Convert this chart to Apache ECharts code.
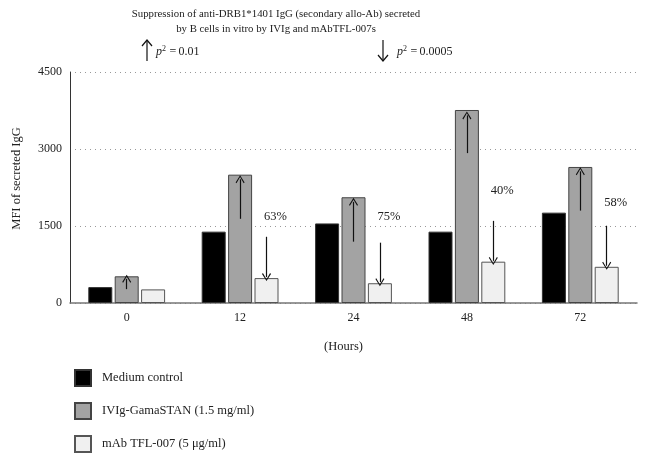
<!DOCTYPE html>
<html><head><meta charset="utf-8">
<script src="https://cdn.jsdelivr.net/npm/echarts@6/dist/echarts.min.js"></script>
<style>html,body{margin:0;padding:0;background:#fff}#c{width:645px;height:459px}</style>
</head><body><div id="c"></div>
<script>
// ---- data ----
const categories = ['0', '12', '24', '48', '72'];
const seriesNames = ['Medium control', 'IVIg-GamaSTAN (1.5 mg/ml)', 'mAb TFL-007 (5 \u03bcg/ml)'];
const mediumControl = [310, 1390, 1550, 1390, 1760];
const ivigGamaStan = [520, 2500, 2060, 3760, 2650];
const mabTfl007 = [265, 485, 385, 805, 705];
const yTicks = [0, 1500, 3000, 4500];
// annotation arrows (value from -> value to), per category
const upArrows = [[270, 470], [1640, 2410], [1195, 1970], [2920, 3655], [1800, 2565]];
const downArrows = [null, [1290, 505], [1175, 405], [1600, 820], [1505, 725]];
const reductionLabels = [null, '63%', '75%', '40%', '58%'];
const reductionLabelValues = [null, 1675, 1675, 2190, 1955];
const titleLines = ['Suppression of anti-DRB1*1401 IgG (secondary allo-Ab) secreted', 'by B cells in vitro by IVIg and mAbTFL-007s'];
const pValues = ['0.01', '0.0005'];

const SERIF = '"Liberation Serif", "DejaVu Serif", serif';
const chevron = 'path://M5,0 L10,9 L9,10 L5,2.2 L1,10 L0,9 Z';

function arrowLines(list) {
  const out = [];
  list.forEach((a, i) => { if (a) out.push([{ coord: [i, a[0]] }, { coord: [i, a[1]] }]); });
  return out;
}
const arrowMarkLine = (list) => ({
  silent: true,
  animation: false,
  symbol: ['none', chevron],
  symbolSize: [9, 8],
  lineStyle: { color: '#111', width: 1.2, type: 'solid' },
  label: { show: false },
  emphasis: { disabled: true },
  data: arrowLines(list)
});

const chart = echarts.init(document.getElementById('c'), null, { renderer: 'canvas' });
const barBase = { type: 'bar', barWidth: 24, barGap: '10%', animation: false };
const pRich = {
  i: { fontFamily: SERIF, fontStyle: 'italic', fontSize: 12 },
  s: { fontFamily: SERIF, fontSize: 8, verticalAlign: 'top', padding: [0, 1, 6, 0] },
  n: { fontFamily: SERIF, fontSize: 12 }
};

chart.setOption({
  backgroundColor: '#fff',
  animation: false,
  textStyle: { fontFamily: SERIF },
  grid: { left: 70, right: 8, top: 72, bottom: 156, containLabel: false, outerBoundsMode: 'none' },
  legend: {
    orient: 'vertical', left: 74, top: 369, padding: 0,
    itemWidth: 16, itemHeight: 16, itemGap: 15,
    icon: 'rect',
    textStyle: { fontFamily: SERIF, fontSize: 12.5, color: '#222', padding: [0, 0, 0, 6] },
    data: seriesNames
  },
  xAxis: {
    type: 'category', data: categories,
    name: '(Hours)', nameLocation: 'middle', nameGap: 37,
    nameTextStyle: { fontFamily: SERIF, fontSize: 12.5, color: '#222', padding: [0, 20, 0, 0] },
    axisLine: { lineStyle: { color: '#777', width: 1.5 } },
    axisTick: { show: false },
    axisLabel: { fontFamily: SERIF, fontSize: 12, color: '#222', margin: 9 }
  },
  yAxis: {
    type: 'value', min: yTicks[0], max: yTicks[yTicks.length - 1], interval: yTicks[1] - yTicks[0],
    name: 'MFI of secreted IgG', nameLocation: 'middle', nameGap: 47, nameRotate: 90,
    nameTextStyle: { fontFamily: SERIF, fontSize: 12.5, color: '#222', padding: [0, 0, 0, 18] },
    axisLine: { show: true, lineStyle: { color: '#333', width: 1 } },
    axisTick: { show: false },
    axisLabel: { fontFamily: SERIF, fontSize: 12, color: '#222', margin: 8, formatter: v => String(v) },
    splitLine: { show: true, lineStyle: { color: '#999', type: [1, 4], width: 1 } }
  },
  series: [
    Object.assign({}, barBase, {
      name: seriesNames[0], data: mediumControl,
      itemStyle: { color: '#000', borderColor: '#333', borderWidth: 1 }
    }),
    Object.assign({}, barBase, {
      name: seriesNames[1], data: ivigGamaStan,
      itemStyle: { color: '#a3a3a3', borderColor: '#444', borderWidth: 1 },
      markLine: arrowMarkLine(upArrows)
    }),
    Object.assign({}, barBase, {
      name: seriesNames[2], data: mabTfl007,
      itemStyle: { color: '#f0f0f0', borderColor: '#555', borderWidth: 1 },
      markLine: arrowMarkLine(downArrows),
      markPoint: {
        silent: true, animation: false,
        symbol: 'circle', symbolSize: 0,
        label: { show: true, position: 'inside', offset: [9, 0], fontFamily: SERIF, fontSize: 12.5, color: '#222',
          formatter: p => p.name },
        data: reductionLabels.map((t, i) => t ? { name: t, coord: [i, reductionLabelValues[i]] } : null).filter(Boolean)
      }
    })
  ],
  graphic: [
    {
      type: 'text', silent: true, x: 276, y: 7,
      style: { text: titleLines.join('\n'), font: '10.8px ' + SERIF, fill: '#222', align: 'center', verticalAlign: 'top', lineHeight: 15 }
    },
    // up arrow + p
    { type: 'line', silent: true, shape: { x1: 147, y1: 40, x2: 147, y2: 61 }, style: { stroke: '#111', lineWidth: 1.2 } },
    { type: 'polyline', silent: true, shape: { points: [[142, 46], [147, 40], [152, 46]] }, style: { stroke: '#111', lineWidth: 1.2, fill: null } },
    { type: 'text', silent: true, x: 156, y: 45, style: { text: '{i|p}{s|2}{n|\u2009=\u2009' + pValues[0] + '}', fill: '#222', rich: pRich } },
    // down arrow + p
    { type: 'line', silent: true, shape: { x1: 383, y1: 40, x2: 383, y2: 61 }, style: { stroke: '#111', lineWidth: 1.2 } },
    { type: 'polyline', silent: true, shape: { points: [[378, 55], [383, 61], [388, 55]] }, style: { stroke: '#111', lineWidth: 1.2, fill: null } },
    { type: 'text', silent: true, x: 397, y: 45, style: { text: '{i|p}{s|2}{n|\u2009=\u2009' + pValues[1] + '}', fill: '#222', rich: pRich } }
  ]
});
</script></body></html>
